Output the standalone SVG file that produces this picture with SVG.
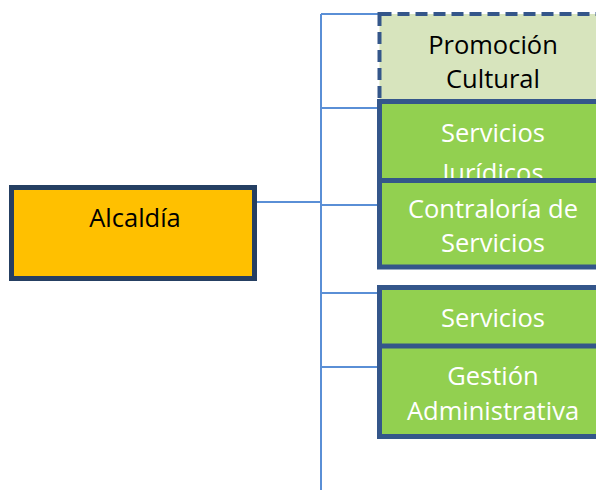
<svg xmlns="http://www.w3.org/2000/svg" width="596" height="490" viewBox="0 0 596 490">
<style>
.con{stroke:#5A8FD6;stroke-width:2;fill:none}
.box{stroke:#34568A;stroke-width:5}
.g{fill:#92D050}
.t{font-family:"Open Sans","Noto Sans",sans-serif;font-size:25.5px;text-anchor:middle}
.w{fill:#FFFFFF}
.k{fill:#000000}
</style>
<rect width="596" height="490" fill="#FFFFFF"/>
<g id="connectors">
<line class="con" x1="321" y1="14" x2="321" y2="490"/>
<line class="con" x1="257" y1="202" x2="321" y2="202"/>
<line class="con" x1="321" y1="14" x2="378" y2="14"/>
<line class="con" x1="321" y1="108" x2="378" y2="108"/>
<line class="con" x1="321" y1="205" x2="378" y2="205"/>
<line class="con" x1="321" y1="293" x2="378" y2="293"/>
<line class="con" x1="321" y1="367" x2="378" y2="367"/>
</g>
<g id="alcaldia">
<rect x="11.5" y="187.5" width="243" height="91" fill="#FFC000" stroke="#253F62" stroke-width="5"/>
<text class="t k" x="135" y="227">Alcaldía</text>
</g>
<g id="promocion-cultural">
<rect x="379.5" y="14" width="230" height="100" fill="#D7E4BD" stroke="#34568A" stroke-width="4" stroke-dasharray="12,6"/>
<text class="t k" x="493" y="54">Promoción</text>
<text class="t k" x="493" y="88">Cultural</text>
</g>
<g id="servicios-juridicos">
<rect class="box g" x="379.5" y="101.5" width="230" height="100"/>
<text class="t w" x="493" y="142">Servicios</text>
<text class="t w" x="493" y="182">Jurídicos</text>
</g>
<g id="contraloria-de-servicios">
<rect class="box g" x="379.5" y="180.5" width="230" height="86.5"/>
<text class="t w" x="493" y="218">Contraloría de</text>
<text class="t w" x="493" y="252">Servicios</text>
</g>
<g id="servicios">
<rect class="box g" x="379.5" y="287.5" width="230" height="80"/>
<text class="t w" x="493" y="327">Servicios</text>
</g>
<g id="gestion-administrativa">
<rect class="box g" x="379.5" y="346" width="230" height="90.5"/>
<text class="t w" x="493" y="385">Gestión</text>
<text class="t w" x="493" y="420">Administrativa</text>
</g>
</svg>
